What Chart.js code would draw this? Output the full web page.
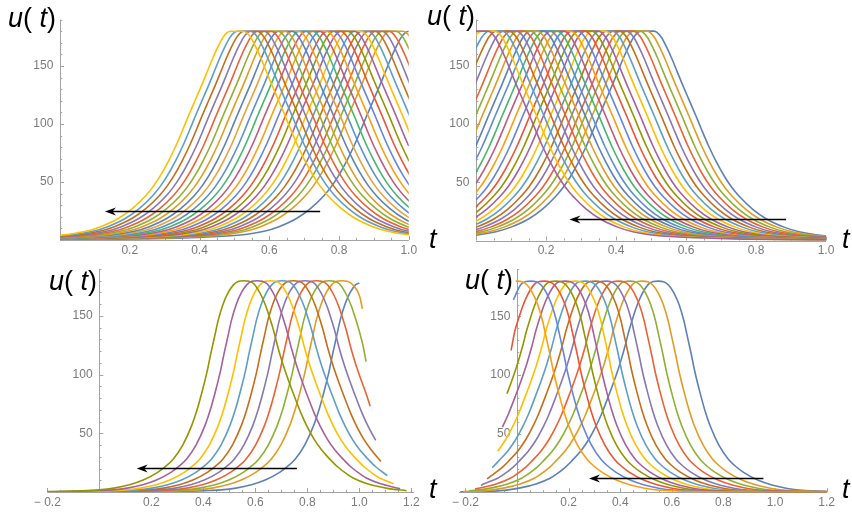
<!DOCTYPE html>
<html>
<head>
<meta charset="utf-8">
<script src="https://cdn.jsdelivr.net/npm/chart.js@4/dist/chart.umd.min.js"></script>
<style>
  html, body { margin: 0; padding: 0; background: #ffffff; }
  #wrap { position: relative; width: 852px; height: 514px; overflow: hidden; }
  canvas { position: absolute; }
  .lbl { position: absolute; font-family: "Liberation Sans", Arial, sans-serif; font-size: 27px; line-height: 30px; color: #000; white-space: nowrap; }
  .lbl i { font-style: italic; }
</style>
</head>
<body>
<div id="wrap">
  <canvas id="cTL" width="426" height="257" style="left:0;top:0"></canvas>
  <canvas id="cTR" width="426" height="257" style="left:426px;top:0"></canvas>
  <canvas id="cBL" width="426" height="257" style="left:0;top:257px"></canvas>
  <canvas id="cBR" width="426" height="257" style="left:426px;top:257px"></canvas>
  <div class="lbl" style="left:8px;top:3px"><i>u</i>( <i>t</i>)</div>
  <div class="lbl" style="left:427px;top:1px"><i>u</i>( <i>t</i>)</div>
  <div class="lbl" style="left:49px;top:266px"><i>u</i>( <i>t</i>)</div>
  <div class="lbl" style="left:465px;top:265px"><i>u</i>( <i>t</i>)</div>
  <div class="lbl" style="left:429px;top:224px"><i>t</i></div>
  <div class="lbl" style="left:842px;top:224px"><i>t</i></div>
  <div class="lbl" style="left:429px;top:474px"><i>t</i></div>
  <div class="lbl" style="left:842px;top:474px"><i>t</i></div>
</div>
<script>
// ---------- data ----------
// Shape of one pulse in the top panels (offset from pulse centre, value)
const topProfileDt = [-1.1, -0.9, -0.75, -0.62, -0.5, -0.433, -0.39, -0.34, -0.3, -0.262, -0.24, -0.22, -0.196, -0.175, -0.155, -0.14, -0.12, -0.1, -0.085, -0.07, -0.055, -0.04, -0.028, -0.018, 0, 0.018, 0.028, 0.04, 0.055, 0.07, 0.085, 0.1, 0.12, 0.14, 0.155, 0.175, 0.196, 0.22, 0.24, 0.262, 0.3, 0.34, 0.39, 0.433, 0.5, 0.62, 0.75, 0.9, 1.1];
const topProfileV  = [0.4, 0.7, 1.2, 2.3, 4.3, 7.5, 11.5, 18.5, 27, 38, 46, 55, 68, 81, 95, 106, 120, 134, 145, 156, 166, 174.5, 178.8, 180, 180, 180, 178.8, 174.5, 166, 156, 145, 134, 120, 106, 95, 81, 68, 55, 46, 38, 27, 18.5, 11.5, 7.5, 4.3, 2.3, 1.2, 0.7, 0.4];

// Bottom panels: steep flank and gentle flank of a pulse (distance from centre, value)
const steepDt = [0, 0.02, 0.04, 0.06, 0.08, 0.099, 0.11, 0.128, 0.14, 0.16, 0.18, 0.2, 0.235, 0.272, 0.3, 0.33, 0.387, 0.44, 0.5, 0.556, 0.6, 0.7, 0.85, 1.0, 1.3];
const steepV  = [180, 179.5, 176.5, 170, 160, 146, 135, 117, 104, 86, 70, 57, 40, 28, 22, 17, 10.2, 6.2, 3.3, 1.8, 1.3, 0.6, 0.2, 0.08, 0.02];
const gentleDt = [0, 0.02, 0.04, 0.068, 0.085, 0.1, 0.115, 0.13, 0.15, 0.17, 0.19, 0.22, 0.244, 0.27, 0.3, 0.335, 0.36, 0.405, 0.42, 0.475, 0.5, 0.557, 0.623, 0.7, 0.85, 1.0, 1.3];
const gentleV  = [180, 179.6, 177, 167, 158, 148, 137, 124, 109, 96, 84, 67, 55.5, 45, 35.5, 27, 21.5, 14, 12, 7, 5.5, 2.9, 1.2, 0.55, 0.2, 0.08, 0.02];

// Pulse centres for each panel
const tlCenters = [1.018, 0.965, 0.944, 0.924, 0.904, 0.884, 0.864, 0.844, 0.825, 0.805, 0.785, 0.765, 0.745, 0.725, 0.705, 0.685, 0.665, 0.646, 0.626, 0.606, 0.586, 0.566, 0.546, 0.527, 0.507];
const trCenters = [0.490, 0.470, 0.450, 0.431, 0.411, 0.391, 0.371, 0.351, 0.331, 0.312, 0.292, 0.272, 0.252, 0.232, 0.213, 0.193, 0.174, 0.156, 0.137, 0.118, 0.097, 0.076, 0.056, 0.035, 0.015];
const blCenters = [1.025, 0.933, 0.885, 0.836, 0.791, 0.747, 0.703, 0.658, 0.607, 0.556];
const blEndT    = [1.0, 1.012, 1.026, 1.042, 1.063, 1.083, 1.108, 1.132, 1.157, 1.182];
const blEndV    = [178, 156, 111, 73, 44, 26, 14, 7, 2.8, 1.1];
const brCenters = [0.548, 0.487, 0.438, 0.394, 0.345, 0.304, 0.265, 0.226, 0.187, 0.151, 0.106, 0.054, 0.0];
const brStartT  = [-0.22, -0.208, -0.185, -0.163, -0.14, -0.116, -0.096, -0.075, -0.057, -0.039, -0.023, -0.014, -0.005];
const brStartV  = [0.4, 0.6, 1.2, 2.7, 5.9, 11.5, 21, 35, 55.5, 84, 121, 164, 180];

// Arrows: [t start, t tip, u level]
const tlArrow = [0.746, 0.129, 25.3];
const trArrow = [0.886, 0.267, 18.9];
const blArrow = [0.760, 0.144, 20.5];
const brArrow = [0.955, 0.279, 11.9];

// Axis tick labels
const xTickStep = 0.2, yTickStep = 50;

// ---------- styles ----------
const mma97 = ['#5E81B5','#E19C24','#8FB032','#EB6235','#8778B3','#C56E1A','#5D9EC7','#FFBF00','#A5609D','#929600','#E95536','#6685D9','#F89F13','#BC5B80','#47B66D','#5B8FD0','#E8A23C'];
const tlColorIdx = [1,2,3,4,5,6,7,8,9,10,11,12,13,14,15,16,17,1,2,3,4,5,6,7,8];
const trColorIdx = [1,2,3,4,5,6,7,8,9,10,11,12,13,14,15,16,1,2,3,4,5,6,7,8,9];
const blColorIdx = [1,2,3,4,5,6,7,8,9,10];
const brColorIdx = [1,2,3,4,5,6,7,8,9,10,11,12,13];

// ---------- build datasets ----------
function shifted(c, dts, vs) { return dts.map((d, i) => ({ x: c + d, y: vs[i] })); }
const blDt = steepDt.slice(1).reverse().map(d => -d).concat(gentleDt);
const blV  = steepV.slice(1).reverse().concat(gentleV);
const brDt = gentleDt.slice(1).reverse().map(d => -d).concat(steepDt);
const brV  = gentleV.slice(1).reverse().concat(steepV);

function ds(data, colorIdx, k) {
  return { data, borderColor: mma97[colorIdx - 1], borderWidth: 1.6, pointRadius: 0, fill: false,
           cubicInterpolationMode: 'monotone', order: -k };
}
const tlSets = tlCenters.map((c, k) => ds(shifted(c, topProfileDt, topProfileV), tlColorIdx[k], k));
const trSets = trCenters.map((c, k) => ds(shifted(c, topProfileDt, topProfileV), trColorIdx[k], k));
const blSets = blCenters.map((c, k) => {
  const pts = shifted(c, blDt, blV).filter(p => p.x < blEndT[k] - 0.004);
  pts.push({ x: blEndT[k], y: blEndV[k] });
  return ds(pts, blColorIdx[k], k);
});
const brSets = brCenters.map((c, k) => {
  const pts = [{ x: brStartT[k], y: brStartV[k] }].concat(shifted(c, brDt, brV).filter(p => p.x > brStartT[k] + 0.004));
  return ds(pts, brColorIdx[k], k);
});

// ---------- Mathematica-like axes ----------
const AXIS = '#a3a3a3';
const mmaAxes = {
  id: 'mmaAxes',
  beforeDatasetsDraw(chart, args, opts) {
    const { ctx, chartArea: a } = chart;
    const xs = chart.scales.x, ys = chart.scales.y;
    const y0 = ys.getPixelForValue(0), x0 = xs.getPixelForValue(0);
    ctx.save();
    ctx.strokeStyle = AXIS; ctx.lineWidth = 1;
    ctx.beginPath();
    ctx.moveTo(a.left, Math.round(y0) + 0.5); ctx.lineTo(a.right, Math.round(y0) + 0.5);
    ctx.moveTo(Math.round(x0) + 0.5, a.top); ctx.lineTo(Math.round(x0) + 0.5, a.bottom);
    // x ticks (major every 0.2, minor every 0.05)
    const xmin = xs.min, xmax = xs.max;
    for (let i = Math.ceil(xmin / 0.05 - 1e-6); i * 0.05 <= xmax + 1e-9; i++) {
      if (i === 0) continue;
      const len = (i % 4 === 0) ? 4 : 2.2;
      const px = Math.round(xs.getPixelForValue(i * 0.05)) + 0.5;
      ctx.moveTo(px, y0); ctx.lineTo(px, y0 - len);
    }
    // y ticks (major every 50, minor every 10)
    for (let j = 1; j * 10 <= ys.max; j++) {
      const len = (j % 5 === 0) ? 4 : 2.2;
      const py = Math.round(ys.getPixelForValue(j * 10)) + 0.5;
      ctx.moveTo(x0, py); ctx.lineTo(x0 + len, py);
    }
    ctx.stroke();
    ctx.restore();
  },
  afterDatasetsDraw(chart, args, opts) {
    const arr = opts.arrow;
    if (!arr) return;
    const { ctx } = chart;
    const xs = chart.scales.x, ys = chart.scales.y;
    const x1 = xs.getPixelForValue(arr[0]), x2 = xs.getPixelForValue(arr[1]);
    const y = Math.round(ys.getPixelForValue(arr[2])) + 0.5;
    ctx.save();
    ctx.strokeStyle = '#000'; ctx.fillStyle = '#000'; ctx.lineWidth = 1.3;
    ctx.beginPath(); ctx.moveTo(x1, y); ctx.lineTo(x2 + 6, y); ctx.stroke();
    ctx.beginPath();
    ctx.moveTo(x2, y); ctx.lineTo(x2 + 11, y - 4); ctx.lineTo(x2 + 7.5, y); ctx.lineTo(x2 + 11, y + 4);
    ctx.closePath(); ctx.fill();
    ctx.restore();
  }
};

const tickFont = { family: '"Liberation Sans", Arial, sans-serif', size: 12 };
function fmtX(v) {
  if (Math.abs(v) < 1e-9) return '';
  const s = Math.abs(v).toFixed(1);
  return v < 0 ? '\u2212 ' + s : s;
}
function fmtY(v) { return Math.abs(v) < 1e-9 ? '' : String(Math.round(v)) + '  '; }

function makeChart(id, datasets, xMin, xMax, pad, arrow) {
  return new Chart(document.getElementById(id), {
    type: 'line',
    data: { datasets },
    options: {
      responsive: false, animation: false, events: [],
      layout: { padding: pad },
      plugins: { legend: { display: false }, tooltip: { enabled: false }, mmaAxes: { arrow } },
      scales: {
        x: { type: 'linear', min: xMin, max: xMax, position: { y: 0 },
             grid: { display: false, drawTicks: false, tickLength: 0 }, border: { display: false },
             ticks: { stepSize: xTickStep, includeBounds: false, autoSkip: false, maxRotation: 0,
                      color: '#7a7a7a', font: tickFont, padding: 3, callback: fmtX } },
        y: { type: 'linear', min: 0, max: 190, position: { x: 0 },
             grid: { display: false, drawTicks: false, tickLength: 0 }, border: { display: false },
             ticks: { stepSize: yTickStep, includeBounds: false, autoSkip: false,
                      color: '#7a7a7a', font: tickFont, callback: fmtY } }
      }
    },
    plugins: [mmaAxes]
  });
}

makeChart('cTL', tlSets, 0, 1, { left: 60, right: 17.25, top: 19.6, bottom: 17 }, tlArrow);
makeChart('cTR', trSets, 0, 1, { left: 50, right: 26, top: 19.5, bottom: 16.5 }, trArrow);
makeChart('cBL', blSets, -0.2, 1.21, { left: 47.3, right: 12.1, top: 12, bottom: 22 }, blArrow);
makeChart('cBR', brSets, -0.225, 1.2, { left: 33, right: 25.4, top: 12.4, bottom: 21.7 }, brArrow);
</script>
</body>
</html>
